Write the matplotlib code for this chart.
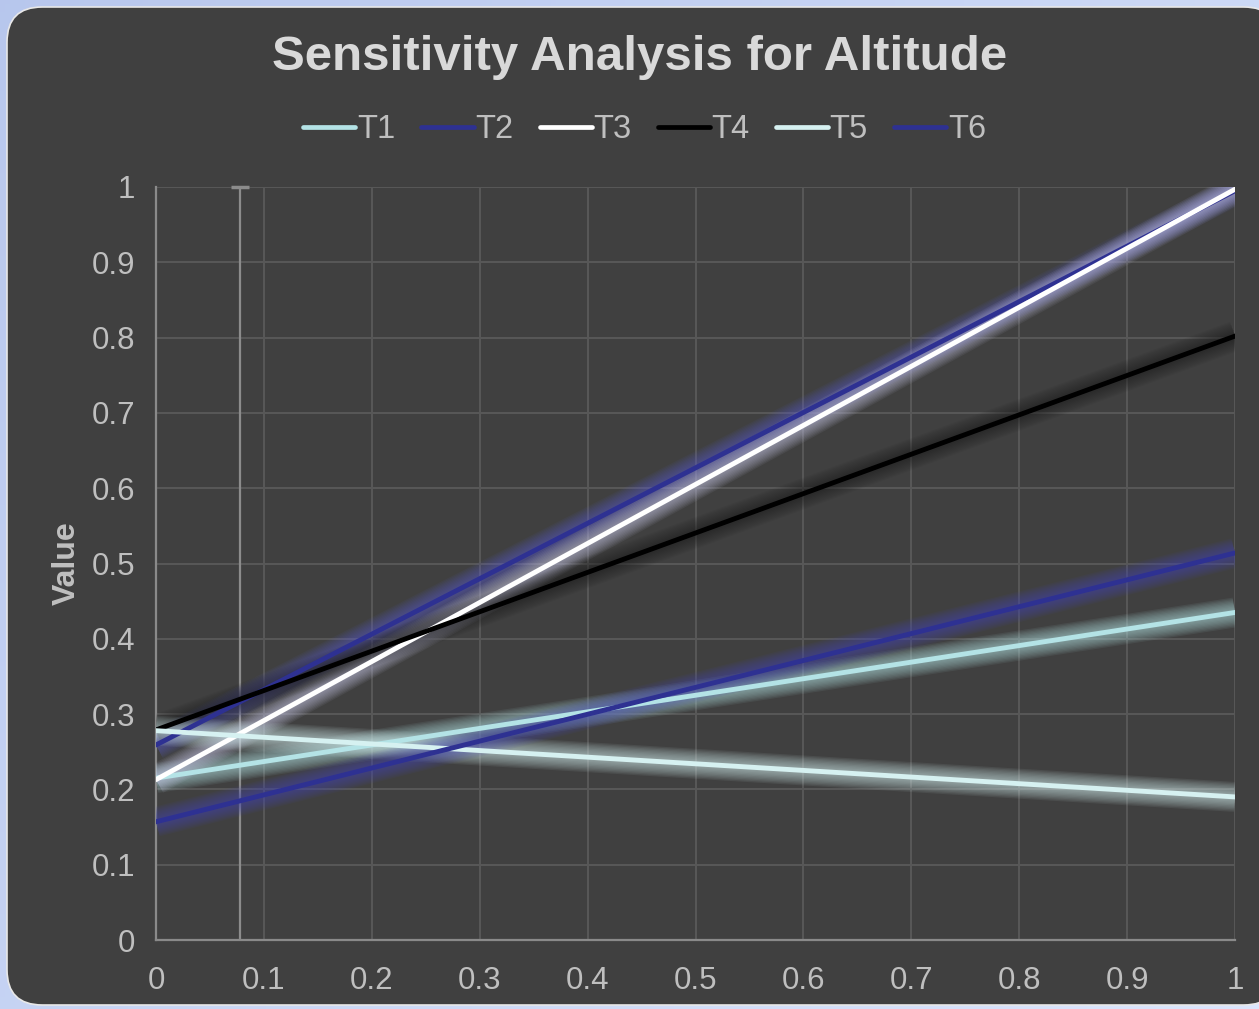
import numpy as np
import matplotlib
matplotlib.use("Agg")
import matplotlib.pyplot as plt
from matplotlib.patches import FancyBboxPatch
from matplotlib.lines import Line2D

plt.rcParams['font.family'] = ['Liberation Sans', 'DejaVu Sans']

# Series data: parameter value (x) against model output (y)
x_vals = [0.0, 1.0]
series_names = ["T1", "T2", "T3", "T4", "T5", "T6"]
t1 = [0.215, 0.435]
t2 = [0.259, 0.995]
t3 = [0.213, 0.997]
t4 = [0.279, 0.802]
t5 = [0.278, 0.190]
t6 = [0.157, 0.514]
series_values = [t1, t2, t3, t4, t5, t6]
series_colors = ["#B4E3E6", "#2E3192", "#FFFFFF", "#000000", "#D6F1F1", "#2E3192"]
glow_colors = ["#B4E3E6", "#5A5CC0", "#C8C8E8", "#202020", "#D6F1F1", "#4446B0"]

baseline_x = 0.0774
x_ticks = [0, 0.1, 0.2, 0.3, 0.4, 0.5, 0.6, 0.7, 0.8, 0.9, 1]
x_tick_labels = ["0", "0.1", "0.2", "0.3", "0.4", "0.5", "0.6", "0.7", "0.8", "0.9", "1"]
y_ticks = [0, 0.1, 0.2, 0.3, 0.4, 0.5, 0.6, 0.7, 0.8, 0.9, 1]
y_tick_labels = ["0", "0.1", "0.2", "0.3", "0.4", "0.5", "0.6", "0.7", "0.8", "0.9", "1"]

W, H = 1259, 1009
fig = plt.figure(figsize=(W / 100, H / 100), dpi=100)

# Soft blue backdrop
bg = fig.add_axes([0, 0, 1, 1], zorder=-10)
gx = np.linspace(0, 1, 256)
gy = np.linspace(0, 1, 256)
GX, GY = np.meshgrid(gx, gy)
t = np.clip(0.6 * GX + 0.4 * (1 - GY), 0, 1)
c0 = np.array([0.72, 0.78, 0.93])
c1 = np.array([0.86, 0.90, 0.99])
img = c0[None, None, :] * (1 - t[..., None]) + c1[None, None, :] * t[..., None]
bg.imshow(img, extent=[0, 1, 0, 1], aspect='auto', origin='lower')
bg.set_xlim(0, 1)
bg.set_ylim(0, 1)
bg.axis('off')

# Rounded dark panel
panel = FancyBboxPatch((7 / W, 4 / H), (W + 20 - 7) / W, (1002 - 4) / H,
                       boxstyle="round,pad=0,rounding_size=0.028",
                       transform=fig.transFigure, facecolor="#404040",
                       edgecolor="#E8E8E8", linewidth=1.2, zorder=-5,
                       mutation_aspect=W / H)
fig.patches.append(panel)

ax = fig.add_axes([156 / W, 1 - 940 / H, (1235 - 156) / W, (940 - 187) / H])
ax.set_facecolor("none")
ax.set_xlim(0, 1)
ax.set_ylim(0, 1)

ax.set_xticks(x_ticks)
ax.set_xticklabels(x_tick_labels)
ax.set_yticks(y_ticks)
ax.set_yticklabels(y_tick_labels)
ax.tick_params(length=0, labelsize=22.5, colors="#BFBFBF")
ax.tick_params(axis='x', pad=19)
ax.tick_params(axis='y', pad=15)
ax.grid(True, color="#575757", linewidth=1.5)
ax.set_axisbelow(True)
for side in ["top", "right"]:
    ax.spines[side].set_visible(False)
for side in ["left", "bottom"]:
    ax.spines[side].set_color("#8A8A8A")
    ax.spines[side].set_linewidth(1.6)

# Vertical reference marker with a cap at the top
ax.plot([baseline_x, baseline_x], [0, 1], color="#8C8C8C", linewidth=1.6, zorder=2)
ax.plot([baseline_x], [1], marker="_", markersize=13, markeredgewidth=2.5,
        color="#8C8C8C", zorder=2, clip_on=False)

# Glow layers under each line
for vals, gc in zip(series_values, glow_colors):
    for w in np.linspace(30, 7, 10):
        ax.plot(x_vals, vals, color=gc, linewidth=w * 0.72, alpha=0.075,
                solid_capstyle='butt', zorder=3)

handles = []
for name, vals, col in zip(series_names, series_values, series_colors):
    ax.plot(x_vals, vals, color=col, linewidth=3.5,
            solid_capstyle='round', zorder=4, label=name)
    handles.append(Line2D([0], [0], color=col, linewidth=3.4,
                          solid_capstyle='round'))

ax.set_ylabel("Value", fontsize=23, fontweight="bold", color="#BFBFBF", labelpad=7)

fig.text(0.508, 1 - 57 / H, "Sensitivity Analysis for Altitude", ha="center",
         va="center", fontsize=35.5, fontweight="bold", color="#D9D9D9")

leg = fig.legend(handles, series_names, loc="center", bbox_to_anchor=(0.512, 1 - 130 / H),
                 ncol=6, frameon=False, fontsize=23.5, handlelength=1.6,
                 handletextpad=0.05, columnspacing=0.8, labelcolor="#BFBFBF")

fig.savefig("out.png", dpi=100)
